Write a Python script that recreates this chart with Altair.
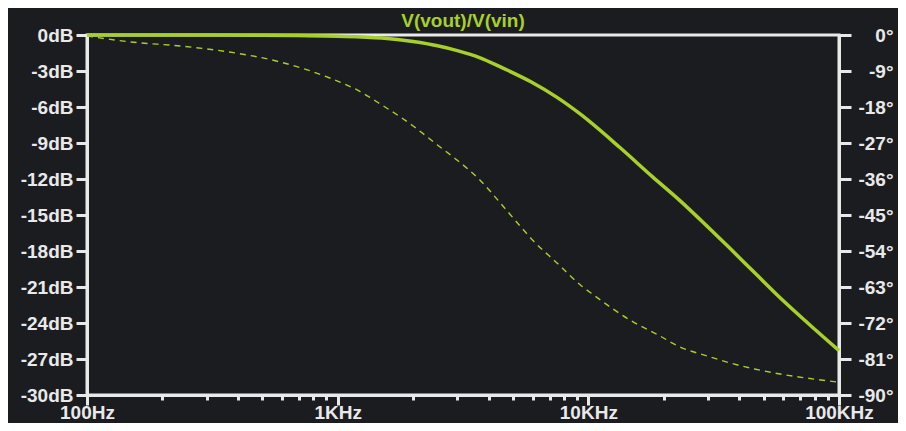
import altair as alt
import pandas as pd

# ---- data ----
mag_freq = [100, 200, 300, 500, 700, 1000, 1500, 2000, 2500, 3000, 3700, 4500,
            5900, 7500, 9300, 13400, 18000, 23200, 30000, 36800, 46000, 58200,
            75000, 100000]
mag_db = [0.0, 0.0, 0.0, -0.02, -0.05, -0.1, -0.25, -0.55, -0.9, -1.3, -1.9, -2.7,
          -3.9, -5.2, -6.6, -9.4, -11.8, -13.8, -16.0, -17.8, -19.8, -21.9,
          -24.0, -26.3]

phase_freq = [100, 150, 235, 370, 590, 930, 1200, 1480, 2000, 2500, 3000, 3700,
              4500, 5300, 6000, 7500, 9300, 10500, 14700, 19000, 23200, 30000,
              36800, 46000, 58200, 75000, 100000]
phase_deg = [-0.25, -1.75, -2.75, -4.25, -6.75, -10.75, -13.8, -17.25, -22.75,
             -27.5, -31.3, -36.3, -42.3, -47.5, -51.3, -57.0, -62.5, -65.0,
             -71.3, -75.0, -78.0, -80.3, -82.0, -83.5, -84.75, -85.8, -86.8]

x_ticks = [100, 200, 300, 400, 500, 600, 700, 800, 900,
           1000, 2000, 3000, 4000, 5000, 6000, 7000, 8000, 9000,
           10000, 20000, 30000, 40000, 50000, 60000, 70000, 80000, 90000,
           100000]
db_ticks = [-30, -27, -24, -21, -18, -15, -12, -9, -6, -3, 0]
deg_ticks = [-90, -81, -72, -63, -54, -45, -36, -27, -18, -9, 0]
title_text = ["V(vout)/V(vin)"]

# ---- styles ----
GREEN = "#a7d02a"
BG = "#1b1c20"
FG = "#e9e9e9"
FONT = "Liberation Sans"

mag_df = pd.DataFrame({"freq": mag_freq, "db": mag_db})
ph_df = pd.DataFrame({"freq": phase_freq, "deg": phase_deg})
title_df = pd.DataFrame({"t": title_text})

xscale = alt.Scale(type="log", domain=[100, 100000], nice=False)

decade_test = ("datum.value == 100 || datum.value == 1000 || "
               "datum.value == 10000 || datum.value == 100000")
x_label_expr = ("datum.value == 100 ? '100Hz' : datum.value == 1000 ? '1KHz' : "
                "datum.value == 10000 ? '10KHz' : datum.value == 100000 ? '100KHz' : ''")

common = dict(
    grid=False, title=None,
    domainColor=FG, domainWidth=3,
    tickColor=FG, tickWidth=3,
    labelColor=FG, labelFont=FONT, labelFontSize=19, labelFontWeight="bold",
    labelOverlap=False, labelBound=False, labelFlush=False,
)

x_axis = alt.Axis(
    values=x_ticks, labelExpr=x_label_expr, orient="bottom",
    tickSize={"condition": {"test": decade_test, "value": 10}, "value": 5},
    labelBaseline="alphabetic", labelPadding=13, labelAlign="center",
    **common,
)

left_axis = alt.Axis(
    values=db_ticks, labelExpr="datum.value + 'dB'", orient="left",
    tickSize=11, labelPadding=3, labelAlign="right", labelBaseline="middle",
    **common,
)

right_axis = alt.Axis(
    values=deg_ticks, labelExpr="datum.value + '°'", orient="right",
    tickSize=12, labelPadding=42, labelAlign="right", labelBaseline="middle",
    **common,
)

mag = alt.Chart(mag_df).mark_line(
    color=GREEN, strokeWidth=3.5, clip=False, interpolate="monotone"
).encode(
    x=alt.X("freq:Q", scale=xscale, axis=x_axis),
    y=alt.Y("db:Q", scale=alt.Scale(domain=[-30, 0], nice=False, zero=False), axis=left_axis),
)

phase = alt.Chart(ph_df).mark_line(
    color=GREEN, strokeWidth=1.4, strokeDash=[6, 5], clip=False, interpolate="monotone"
).encode(
    x=alt.X("freq:Q", scale=xscale, axis=x_axis),
    y=alt.Y("deg:Q", scale=alt.Scale(domain=[-90, 0], nice=False, zero=False), axis=right_axis),
)

title = alt.Chart(title_df).mark_text(
    color=GREEN, font=FONT, fontSize=19, fontWeight="bold",
    align="center", baseline="alphabetic", clip=False,
).encode(
    text="t:N",
    x=alt.value(376),
    y=alt.value(-8),
)

chart = alt.layer(phase, mag, title).resolve_scale(y="independent").properties(
    width=752,
    height=360,
    background=BG,
    padding={"left": 79, "top": 27, "right": 59, "bottom": 28},
    autosize=alt.AutoSizeParams(type="none"),
).configure_view(
    stroke=FG, strokeWidth=3,
)

chart.save("out.html", embed_options={"renderer": "svg", "actions": False})
